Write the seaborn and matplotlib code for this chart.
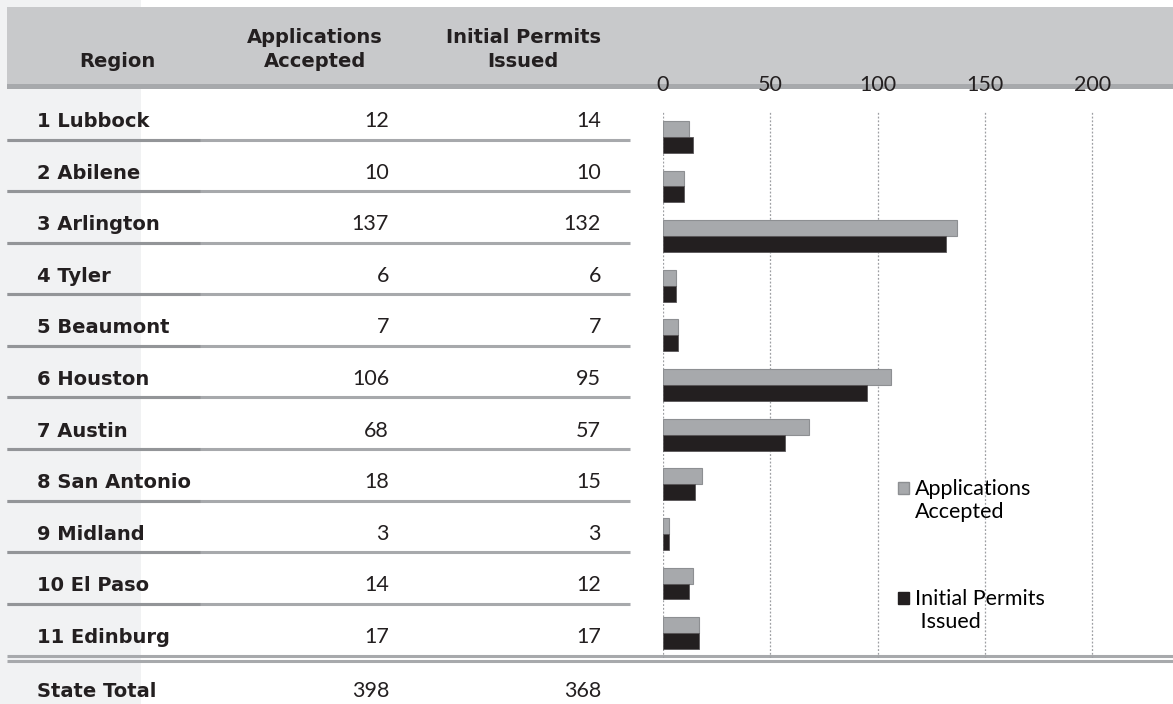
import matplotlib
matplotlib.use("Agg")
import matplotlib.pyplot as plt
import matplotlib.patches as mpatches
from matplotlib.lines import Line2D
from matplotlib.legend_handler import HandlerPatch
from matplotlib.font_manager import FontProperties
import seaborn as sns
import pandas as pd

# ---- data -------------------------------------------------------------
regions = ["1 Lubbock", "2 Abilene", "3 Arlington", "4 Tyler", "5 Beaumont",
           "6 Houston", "7 Austin", "8 San Antonio", "9 Midland",
           "10 El Paso", "11 Edinburg"]
applications = [12, 10, 137, 6, 7, 106, 68, 18, 3, 14, 17]
permits = [14, 10, 132, 6, 7, 95, 57, 15, 3, 12, 17]
series_names = ["Applications Accepted", "Initial Permits Issued"]
col_headers = ["Region", "Applications\nAccepted", "Initial Permits\nIssued"]
total_label = "State Total"
x_ticks = [0, 50, 100, 150, 200]

# ---- styling ------------------------------------------------------------
W, H = 1173, 704
GRAY_BAR = "#a7a9ac"
GRAY_EDGE = "#8d8f92"
BLACK_BAR = "#231f20"
TEXT = "#231f20"
HEADER_BG = "#c8c9cb"
RULE = "#a7a9ac"
RULE_DARK = "#939598"
SIDE_BG = "#f1f2f3"

bold = dict(family="DejaVu Sans", weight="bold", size=14, color=TEXT)
light = dict(family="Lato", weight="normal", size=15.5, color=TEXT)

fig = plt.figure(figsize=(W / 100, H / 100), dpi=100)
fig.patch.set_facecolor("white")


def fx(px):
    return px / W


def fy(py):
    return 1 - py / H


def frect(x0, y0, x1, y1, color, z=0):
    fig.add_artist(mpatches.Rectangle((fx(x0), fy(y1)), fx(x1) - fx(x0),
                                      fy(y0) - fy(y1), transform=fig.transFigure,
                                      facecolor=color, edgecolor="none", zorder=z))


def fline(x0, x1, y, color, lw, z=1):
    fig.add_artist(Line2D([fx(x0), fx(x1)], [fy(y), fy(y)], transform=fig.transFigure,
                          color=color, lw=lw, solid_capstyle="butt", zorder=z))


# background bands
frect(0, 0, 141, H, SIDE_BG, z=0)
frect(7, 7, W, 85, HEADER_BG, z=0.5)
frect(7, 84, W, 89, RULE, z=0.6)

# ---- table ----------------------------------------------------------
col_x = [117, 315, 523]
for x, head in zip(col_x, col_headers):
    lines = head.split("\n")
    base = 67 - 24 * (len(lines) - 1)
    for i, ln in enumerate(lines):
        fig.text(fx(x), fy(base + 24 * i), ln, ha="center", va="baseline", **bold)

row_pitch = 51.6
for i, (name, a, p) in enumerate(zip(regions, applications, permits)):
    yb = 127 + row_pitch * i
    fig.text(fx(37), fy(yb), name, ha="left", va="baseline", **bold)
    fig.text(fx(389), fy(yb), f"{a}", ha="right", va="baseline", **light)
    fig.text(fx(601), fy(yb), f"{p}", ha="right", va="baseline", **light)
    if i < len(regions) - 1:
        ys = 139.5 + row_pitch * i
        fline(7, 630, ys, RULE, 2.2)
        fline(7, 200, ys, RULE_DARK, 2.2, z=1.1)

# double rule above the total row
fline(7, W, 655.5, RULE, 2.2)
fline(7, W, 660.5, RULE, 2.2)

fig.text(fx(37), fy(697), total_label, ha="left", va="baseline", **bold)
fig.text(fx(389), fy(697), f"{sum(applications)}", ha="right", va="baseline", **light)
fig.text(fx(601), fy(697), f"{sum(permits)}", ha="right", va="baseline", **light)

# ---- bar chart ----------------------------------------------------------
df = pd.DataFrame({
    "Region": regions * 2,
    "Value": applications + permits,
    "Series": [series_names[0]] * len(regions) + [series_names[1]] * len(regions),
})

ax = fig.add_axes([fx(663), fy(658), fx(1146) - fx(663), fy(112) - fy(658)])
ax.set_zorder(5)
ax.set_facecolor("none")
sns.barplot(data=df, y="Region", x="Value", hue="Series", orient="h",
            palette=[GRAY_BAR, BLACK_BAR], width=0.64, legend=False, ax=ax,
            saturation=1)
for bar in ax.containers[0]:
    bar.set_edgecolor(GRAY_EDGE)
    bar.set_linewidth(0.8)
for bar in ax.containers[1]:
    bar.set_edgecolor("#5a5759")
    bar.set_linewidth(0.6)

ax.set_xlim(0, 225)
ax.set_xticks(x_ticks)
ax.xaxis.tick_top()
ax.tick_params(axis="x", length=0, pad=12, labelsize=15.5, labelcolor=TEXT)
for lab in ax.get_xticklabels():
    lab.set_fontfamily("Lato")
ax.set_yticks([])
ax.set_xlabel("")
ax.set_ylabel("")
for s in ax.spines.values():
    s.set_visible(False)
ax.set_axisbelow(True)
ax.grid(axis="x", color="#9d9fa2", lw=0.9, linestyle=(0, (1.5, 1.5)))
ax.grid(axis="y", visible=False)


def top_square(legend, orig_handle, xdescent, ydescent, width, height, fontsize):
    s = 0.55 * fontsize
    return mpatches.Rectangle((-xdescent + (width - s) / 2,
                               -ydescent + height / 2 - s / 2 + 0.62 * fontsize), s, s)


handles = [
    mpatches.Patch(facecolor=GRAY_BAR, edgecolor=GRAY_EDGE, label="Applications\nAccepted"),
    mpatches.Patch(facecolor=BLACK_BAR, edgecolor=BLACK_BAR, label="Initial Permits\n Issued"),
]
ax.legend(handles=handles, handler_map={mpatches.Patch: HandlerPatch(patch_func=top_square)},
          loc="upper left", bbox_to_anchor=(fx(897), fy(479)), bbox_transform=fig.transFigure,
          frameon=False, borderpad=0, borderaxespad=0, handlelength=0.6,
          handletextpad=0.25, labelspacing=3.1,
          prop=FontProperties(family="Lato", weight="normal", size=15.5))

fig.savefig("out.png", dpi=100)
